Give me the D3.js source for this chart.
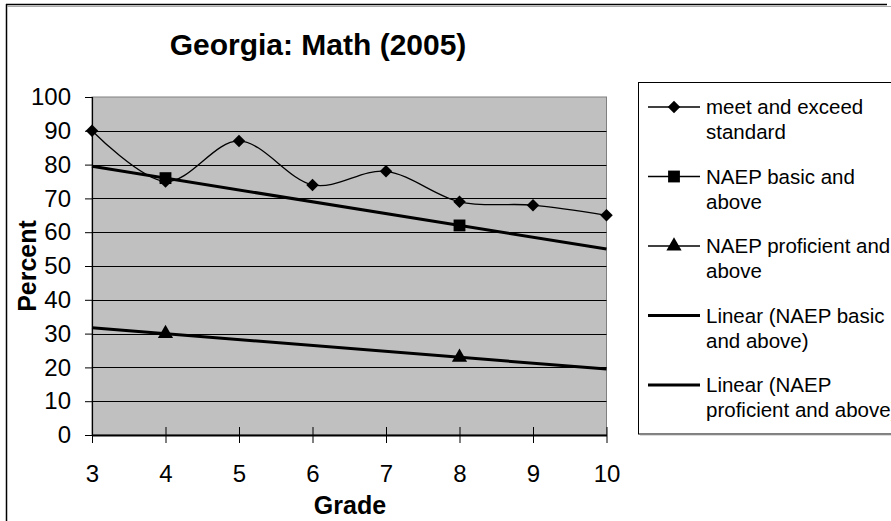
<!DOCTYPE html>
<html>
<head>
<meta charset="utf-8">
<script src="https://cdn.jsdelivr.net/npm/d3@7"></script>
<style>
  html, body { margin: 0; padding: 0; background: #fff; }
  svg { display: block; font-family: "Liberation Sans", Arial, sans-serif; }
</style>
</head>
<body>
<svg id="chart" width="891" height="521"></svg>
<script>
// ---- data ----
const grades = [3, 4, 5, 6, 7, 8, 9, 10];
const meetExceed = [90, 75, 87, 74, 78, 69, 68, 65];
const naepBasic = [null, 76, null, null, null, 62, null, null];
const naepProficient = [null, 30, null, null, null, 23, null, null];
const yTicks = [0, 10, 20, 30, 40, 50, 60, 70, 80, 90, 100];
const titleText = "Georgia: Math (2005)";
const xTitle = "Grade";
const yTitle = "Percent";
const legendLabels = [
  ["meet and exceed", "standard"],
  ["NAEP basic and", "above"],
  ["NAEP proficient and", "above"],
  ["Linear (NAEP basic", "and above)"],
  ["Linear (NAEP", "proficient and above)"]
];

// ---- layout ----
const plot = { left: 92, right: 606.5, top: 97, bottom: 435 };
const svg = d3.select("#chart");

const x = d3.scaleLinear().domain([3, 10]).range([plot.left, plot.right]);
const y = d3.scaleLinear().domain([0, 100]).range([plot.bottom, plot.top]);

// outer chart border (right and bottom edges lie beyond the picture)
svg.append("rect")
  .attr("x", 6.5).attr("y", 4.5).attr("width", 960).attr("height", 540)
  .attr("fill", "#fff").attr("stroke", "none");
svg.append("line").attr("x1", 6).attr("x2", 887).attr("y1", 4.5).attr("y2", 4.5)
  .attr("stroke", "#000").attr("stroke-width", 1.5);
svg.append("line").attr("x1", 6.5).attr("x2", 6.5).attr("y1", 4).attr("y2", 530)
  .attr("stroke", "#000").attr("stroke-width", 1.5);
svg.append("line").attr("x1", 7).attr("x2", 891).attr("y1", 6.5).attr("y2", 6.5)
  .attr("stroke", "#aaa").attr("stroke-width", 1);

// title
svg.append("text")
  .attr("x", 318).attr("y", 55)
  .attr("text-anchor", "middle")
  .attr("font-size", 30).attr("font-weight", "bold")
  .text(titleText);

// plot background
svg.append("rect")
  .attr("x", plot.left).attr("y", plot.top)
  .attr("width", plot.right - plot.left).attr("height", plot.bottom - plot.top)
  .attr("fill", "#C0C0C0").attr("stroke", "#808080").attr("stroke-width", 1);

// gridlines
svg.append("g").selectAll("line")
  .data(yTicks.filter(t => t > 0 && t < 100))
  .join("line")
  .attr("x1", plot.left).attr("x2", plot.right)
  .attr("y1", d => Math.round(y(d)) + 0.5).attr("y2", d => Math.round(y(d)) + 0.5)
  .attr("stroke", "#000").attr("stroke-width", 1);

// y axis
const yAxis = d3.axisLeft(y).tickValues(yTicks).tickSize(7).tickPadding(14);
const gy = svg.append("g").attr("transform", `translate(${plot.left},0)`).call(yAxis);
gy.select(".domain").attr("stroke", "#000").attr("stroke-width", 1.2);
gy.selectAll(".tick line").attr("stroke", "#000");
gy.selectAll(".tick text").attr("font-size", 24).attr("fill", "#000")
  .attr("font-family", "Liberation Sans, Arial, sans-serif");

// x axis
const xAxis = d3.axisBottom(x).tickValues(grades).tickFormat(d3.format("d"))
  .tickSize(8).tickPadding(22).tickSizeOuter(0);
const gx = svg.append("g").attr("transform", `translate(0,${plot.bottom})`).call(xAxis);
gx.select(".domain").attr("stroke", "#000").attr("stroke-width", 2);
gx.selectAll(".tick line").attr("stroke", "#000").attr("y1", -8).attr("y2", 8);
gx.selectAll(".tick text").attr("font-size", 24).attr("fill", "#000")
  .attr("font-family", "Liberation Sans, Arial, sans-serif");

// axis titles
svg.append("text")
  .attr("x", 350).attr("y", 514)
  .attr("text-anchor", "middle")
  .attr("font-size", 25).attr("font-weight", "bold")
  .text(xTitle);
svg.append("text")
  .attr("transform", `translate(36,266) rotate(-90)`)
  .attr("text-anchor", "middle")
  .attr("font-size", 25).attr("font-weight", "bold")
  .text(yTitle);

// trendlines (least squares over available points)
function linFit(vals) {
  const pts = grades.map((g, i) => [g, vals[i]]).filter(p => p[1] != null);
  const mx = d3.mean(pts, p => p[0]), my = d3.mean(pts, p => p[1]);
  const sxy = d3.sum(pts, p => (p[0] - mx) * (p[1] - my));
  const sxx = d3.sum(pts, p => (p[0] - mx) ** 2);
  const b = sxy / sxx, a = my - b * mx;
  return g => a + b * g;
}
const ends = d3.extent(grades);
[naepBasic, naepProficient].forEach(vals => {
  const f = linFit(vals);
  svg.append("path")
    .datum(ends.map(g => [g, f(g)]))
    .attr("d", d3.line().x(d => x(d[0])).y(d => y(d[1])))
    .attr("fill", "none").attr("stroke", "#000").attr("stroke-width", 3);
});

// meet and exceed smoothed line
svg.append("path")
  .datum(grades.map((g, i) => [g, meetExceed[i]]))
  .attr("d", d3.line().curve(d3.curveCardinal.tension(0)).x(d => x(d[0])).y(d => y(d[1])))
  .attr("fill", "none").attr("stroke", "#000").attr("stroke-width", 1.3);

// markers
const diamondPath = d3.symbol().type(d3.symbolSquare).size(78)();
const square = d3.symbol().type(d3.symbolSquare).size(140);
const triangle = d3.symbol().type(d3.symbolTriangle).size(100);

svg.append("g").selectAll("path")
  .data(grades.map((g, i) => [g, meetExceed[i]]))
  .join("path")
  .attr("d", diamondPath)
  .attr("transform", d => `translate(${x(d[0])},${y(d[1])}) rotate(45)`)
  .attr("fill", "#000");

svg.append("g").selectAll("path")
  .data(grades.map((g, i) => [g, naepBasic[i]]).filter(d => d[1] != null))
  .join("path")
  .attr("transform", d => `translate(${x(d[0])},${y(d[1])})`)
  .attr("d", square())
  .attr("fill", "#000");

svg.append("g").selectAll("path")
  .data(grades.map((g, i) => [g, naepProficient[i]]).filter(d => d[1] != null))
  .join("path")
  .attr("transform", d => `translate(${x(d[0])},${y(d[1])})`)
  .attr("d", triangle())
  .attr("fill", "#000");

// legend
const lg = svg.append("g");
lg.append("rect")
  .attr("x", 638.5).attr("y", 82.5).attr("width", 270).attr("height", 351.5)
  .attr("fill", "#fff").attr("stroke", "#000").attr("stroke-width", 1);
lg.append("line").attr("x1", 640).attr("x2", 891).attr("y1", 434.8).attr("y2", 434.8)
  .attr("stroke", "#888").attr("stroke-width", 1);

const entryY = d3.scaleLinear().domain([0, 4]).range([107, 385]);
const markers = [diamondPath, square(), triangle(), null, null];
legendLabels.forEach((lines, i) => {
  const cy = entryY(i);
  const trend = i >= 3;
  lg.append("line")
    .attr("x1", 648).attr("x2", 700).attr("y1", cy).attr("y2", cy)
    .attr("stroke", "#000").attr("stroke-width", trend ? 3 : 1.3);
  if (markers[i]) {
    lg.append("path")
      .attr("d", markers[i])
      .attr("transform", `translate(674,${cy}) rotate(${i === 0 ? 45 : 0})`)
      .attr("fill", "#000");
  }
  lines.forEach((t, j) => {
    lg.append("text")
      .attr("x", 706).attr("y", cy + j * 25)
      .attr("dy", "0.36em")
      .attr("font-size", 20.5)
      .text(t);
  });
});
</script>
</body>
</html>
